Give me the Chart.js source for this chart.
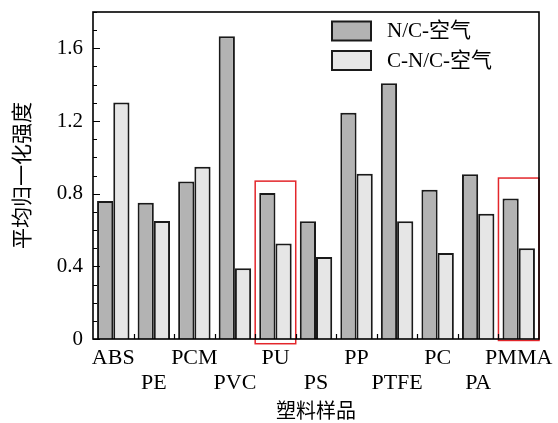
<!DOCTYPE html>
<html>
<head>
<meta charset="utf-8">
<script src="https://cdn.jsdelivr.net/npm/chart.js@4.4.1/dist/chart.umd.min.js"></script>
<style>
  html, body { margin: 0; padding: 0; background: #fff; }
  #wrap { position: relative; width: 558px; height: 423px; }
</style>
</head>
<body>
<div id="wrap"><canvas id="myChart"></canvas></div>
<script>
// data
const categories = ["ABS", "PE", "PCM", "PVC", "PU", "PS", "PP", "PTFE", "PC", "PA", "PMMA"];
const seriesNames = ["N/C-空气", "C-N/C-空气"];
const ncAir = [0.76, 0.75, 0.867, 1.666, 0.803, 0.648, 1.245, 1.408, 0.822, 0.907, 0.773];
const cncAir = [1.302, 0.65, 0.948, 0.389, 0.526, 0.451, 0.909, 0.648, 0.473, 0.69, 0.499];
const yTicks = [0, 0.4, 0.8, 1.2, 1.6];
const yMax = 1.8;
const minorStep = 0.1;
// boxed categories (red frames) and the value range they cover
const highlighted = ["PU", "PMMA"];
const highlightTop = [0.869, 0.886];
const highlightBottom = [-0.026, -0.008];

const barColors = ["#b3b3b3", "#e6e6e6"];
const serif = '"Liberation Serif", "Noto Sans CJK SC"';

// staggered labels: every second one goes on a second row
const xLabels = categories.map((c, i) => (i % 2 ? ["", c] : c));

const framePlugin = {
  id: "frame",
  afterDatasetsDraw(chart) {
    const { ctx, chartArea: a, scales: { x, y } } = chart;
    ctx.save();

    // red boxes
    ctx.strokeStyle = "#e3262b";
    ctx.lineWidth = 1.5;
    const half = (x.getPixelForValue(1) - x.getPixelForValue(0)) / 2;
    highlighted.forEach((c, k) => {
      const cx = x.getPixelForValue(categories.indexOf(c));
      const top = y.getPixelForValue(highlightTop[k]);
      const bot = y.getPixelForValue(highlightBottom[k]);
      ctx.strokeRect(cx - half, top, half * 2, bot - top);
    });

    // axes frame
    ctx.strokeStyle = "#000";
    ctx.lineWidth = 1.6;
    ctx.strokeRect(a.left, a.top, a.right - a.left, a.bottom - a.top);

    // inward ticks on left axis
    ctx.lineWidth = 1.2;
    ctx.beginPath();
    for (let v = 0; v <= yMax + 1e-9; v += minorStep) {
      const py = Math.round(y.getPixelForValue(v)) + 0.5;
      const major = yTicks.some(t => Math.abs(t - v) < 1e-6);
      ctx.moveTo(a.left, py);
      ctx.lineTo(a.left + (major ? 7 : 4), py);
    }
    // small ticks between categories on bottom axis
    for (let i = 1; i < categories.length; i++) {
      const px = Math.round(x.getPixelForValue(i) - half) + 0.5;
      ctx.moveTo(px, a.bottom);
      ctx.lineTo(px, a.bottom - 5);
    }
    ctx.stroke();
    ctx.restore();
  },
  afterDraw(chart) {
    const { ctx, chartArea: a } = chart;
    ctx.save();
    ctx.font = "21px " + serif;
    ctx.textBaseline = "middle";
    seriesNames.forEach((name, i) => {
      const bx = a.right - 207;
      const by = a.top + 9.5 + i * 29.5;
      ctx.fillStyle = barColors[i];
      ctx.fillRect(bx, by, 39, 19);
      ctx.strokeStyle = "#1a1a1a";
      ctx.lineWidth = 2;
      ctx.strokeRect(bx, by, 39, 19);
      ctx.fillStyle = "#000";
      ctx.fillText(name, bx + 55, by + 10);
    });
    ctx.restore();
  }
};

const ctx = document.getElementById("myChart").getContext("2d");
const myChart = new Chart(ctx, {
  type: "bar",
  data: {
    labels: xLabels,
    datasets: [
      {
        label: seriesNames[0],
        data: ncAir,
        backgroundColor: barColors[0],
        borderColor: "#1a1a1a",
        borderWidth: 2,
        categoryPercentage: 0.8,
        barPercentage: 1.0,
      },
      {
        label: seriesNames[1],
        data: cncAir,
        backgroundColor: barColors[1],
        borderColor: "#1a1a1a",
        borderWidth: 2,
        categoryPercentage: 0.8,
        barPercentage: 1.0,
      },
    ],
  },
  options: {
    responsive: true,
    maintainAspectRatio: false,
    animation: false,
    layout: { padding: { top: 12, right: 19, left: 0, bottom: 0 } },
    plugins: { legend: { display: false }, tooltip: { enabled: false } },
    scales: {
      x: {
        grid: { display: false, drawTicks: false },
        border: { display: false },
        ticks: {
          color: "#000",
          font: { family: serif, size: 22, lineHeight: 1.13 },
          padding: 7,
          maxRotation: 0,
          autoSkip: false,
        },
        title: {
          display: true,
          text: "塑料样品",
          color: "#000",
          font: { family: '"Noto Sans CJK SC"', size: 20 },
          padding: { top: 0, bottom: 1 },
        },
        afterFit(s) {
          s.height = 84;
          s.paddingLeft = 0;
          s.paddingRight = 0;
        },
      },
      y: {
        min: 0,
        max: yMax,
        afterBuildTicks(s) { s.ticks = yTicks.map(v => ({ value: v })); },
        grid: { display: false, drawTicks: false },
        border: { display: false },
        ticks: {
          color: "#000",
          font: { family: serif, size: 21 },
          padding: 10,
          autoSkip: false,
          callback: v => (v === 0 ? "0" : v.toFixed(1)),
        },
        title: {
          display: true,
          text: "平均归一化强度",
          color: "#000",
          font: { family: '"Noto Sans CJK SC"', size: 21 },
          padding: { top: 8, bottom: 0 },
        },
        afterFit(s) {
          s.width = 93;
          s.paddingTop = 0;
          s.paddingBottom = 0;
        },
      },
    },
  },
  plugins: [framePlugin],
});
</script>
</body>
</html>
